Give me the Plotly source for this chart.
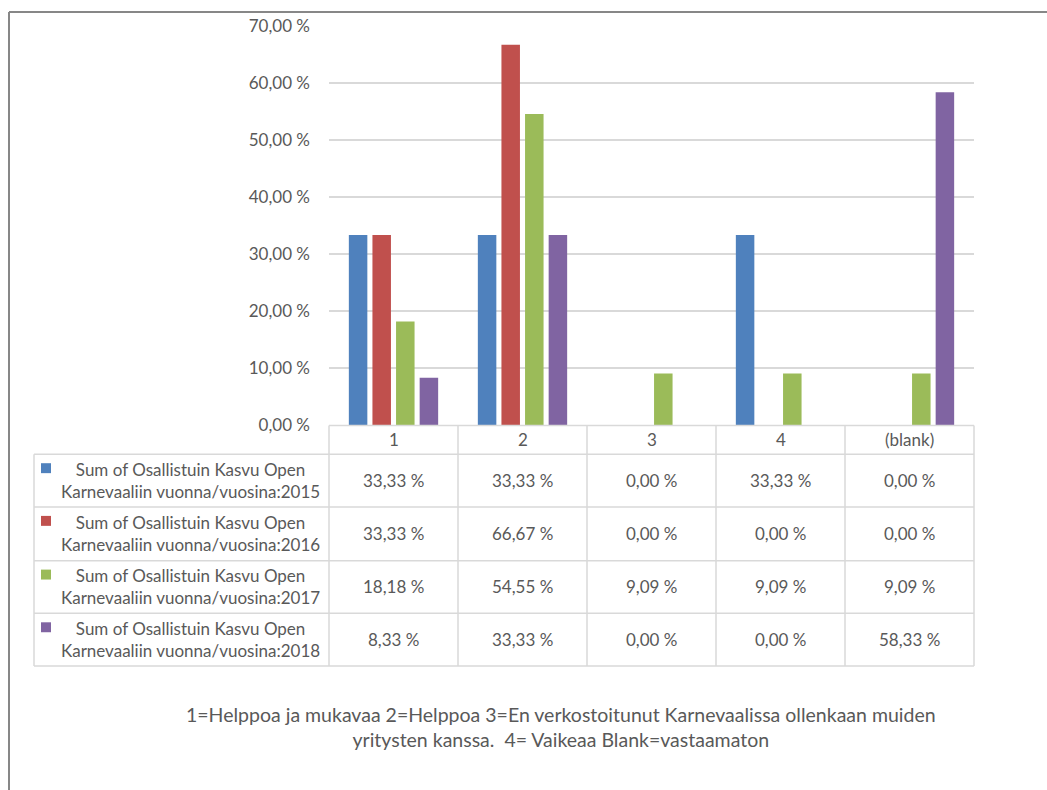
import plotly.graph_objects as go

# Response categories and share of respondents per participation year
categories = ["1", "2", "3", "4", "(blank)"]
series_names = [
    "Sum of Osallistuin Kasvu Open<br>Karnevaaliin vuonna/vuosina:2015",
    "Sum of Osallistuin Kasvu Open<br>Karnevaaliin vuonna/vuosina:2016",
    "Sum of Osallistuin Kasvu Open<br>Karnevaaliin vuonna/vuosina:2017",
    "Sum of Osallistuin Kasvu Open<br>Karnevaaliin vuonna/vuosina:2018",
]
values_2015 = [33.33, 33.33, 0.00, 33.33, 0.00]
values_2016 = [33.33, 66.67, 0.00, 0.00, 0.00]
values_2017 = [18.18, 54.55, 9.09, 9.09, 9.09]
values_2018 = [8.33, 33.33, 0.00, 0.00, 58.33]
colors = ["#4F81BD", "#C0504D", "#9BBB59", "#8064A2"]
y_ticks = [0, 10, 20, 30, 40, 50, 60, 70]
footer = ("1=Helppoa ja mukavaa 2=Helppoa 3=En verkostoitunut Karnevaalissa ollenkaan muiden<br>"
          "yritysten kanssa.  4= Vaikeaa Blank=vastaamaton")

all_values = [values_2015, values_2016, values_2017, values_2018]

W, H = 1047, 790
FONT = "Lato"
TXT = "#595959"
GRID = "#d9d9d9"

# vertical layout positions are given in screen pixels; the page shows the
# figure with a small top offset and slight vertical squeeze, so undo that
Y_SCALE, Y_SHIFT = 0.979, 8.2


def px(x):
    return x / W


def py(y):
    return 1 - ((y - Y_SHIFT) / Y_SCALE) / H


def pct(v):
    return f"{v:.2f}".replace(".", ",") + " %"


def label(x, y, text, size=17, color=TXT):
    return dict(xref="paper", yref="paper", x=px(x), y=py(y), text=text,
                showarrow=False, xanchor="center", yanchor="middle", align="center",
                font=dict(family=FONT, size=size, color=color))


def hline(x0, x1, y, color=GRID, width=1.5):
    return dict(type="line", xref="paper", yref="paper", x0=px(x0), x1=px(x1),
                y0=py(y), y1=py(y), line=dict(color=color, width=width))


def vline(x, y0, y1, color=GRID, width=1.5):
    return dict(type="line", xref="paper", yref="paper", x0=px(x), x1=px(x),
                y0=py(y0), y1=py(y1), line=dict(color=color, width=width))


# plot-area geometry (pixels)
X0, X1 = 329, 974
Y_TOP, Y_ZERO = 23, 425
row_edges = [425, 454, 507, 561, 614, 667]
TABLE_LEFT = 34
col_w = (X1 - X0) / len(categories)
col_edges = [X0 + i * col_w for i in range(len(categories) + 1)]

fig = go.Figure()
for name, vals, col in zip(series_names, all_values, colors):
    fig.add_trace(go.Bar(
        x=categories, y=vals, name=name, marker=dict(color=col, line=dict(width=0)),
        showlegend=False,
    ))

shapes = []
annotations = []

# outer chart frame
shapes.append(hline(9, W + 5, 9.2, color="#878787", width=2))
shapes.append(vline(9, 9.2, H + 20, color="#878787", width=2))

# data table grid
for i, y in enumerate(row_edges):
    shapes.append(hline(X0 if i == 0 else TABLE_LEFT, X1, y))
for x in col_edges:
    shapes.append(vline(x, row_edges[0], row_edges[-1]))
shapes.append(vline(TABLE_LEFT, row_edges[1], row_edges[-1]))

# category header row
for j, cat in enumerate(categories):
    annotations.append(label((col_edges[j] + col_edges[j + 1]) / 2,
                             (row_edges[0] + row_edges[1]) / 2, cat))

# series rows: legend key, name and values
for i, (name, vals, col) in enumerate(zip(series_names, all_values, colors)):
    top, bot = row_edges[i + 1], row_edges[i + 2]
    mid = (top + bot) / 2
    shapes.append(dict(type="rect", xref="paper", yref="paper",
                       x0=px(41), x1=px(51), y0=py(top + 9), y1=py(top + 19),
                       fillcolor=col, line=dict(width=0)))
    annotations.append(label(190, mid, name))
    for j, v in enumerate(vals):
        annotations.append(label((col_edges[j] + col_edges[j + 1]) / 2, mid, pct(v)))

# footnote explaining the categories
annotations.append(label(561, 728, footer, size=19.5))

fig.update_layout(
    width=W, height=H,
    margin=dict(l=0, r=0, t=0, b=0),
    paper_bgcolor="white", plot_bgcolor="white",
    barmode="group", bargap=0.268, bargroupgap=0.216,
    xaxis=dict(domain=[px(X0), px(X1)], showticklabels=False, showgrid=False,
               zeroline=False, showline=False, ticks=""),
    yaxis=dict(domain=[py(Y_ZERO), py(Y_TOP)], range=[0, 70],
               tickvals=y_ticks, ticktext=[pct(t) for t in y_ticks],
               showgrid=True, gridcolor=GRID, gridwidth=1.5, zeroline=False,
               showline=False, ticks="", ticklabelstandoff=18,
               tickfont=dict(family=FONT, size=17, color=TXT)),
    shapes=shapes, annotations=annotations,
)

fig.write_html("out.html")
